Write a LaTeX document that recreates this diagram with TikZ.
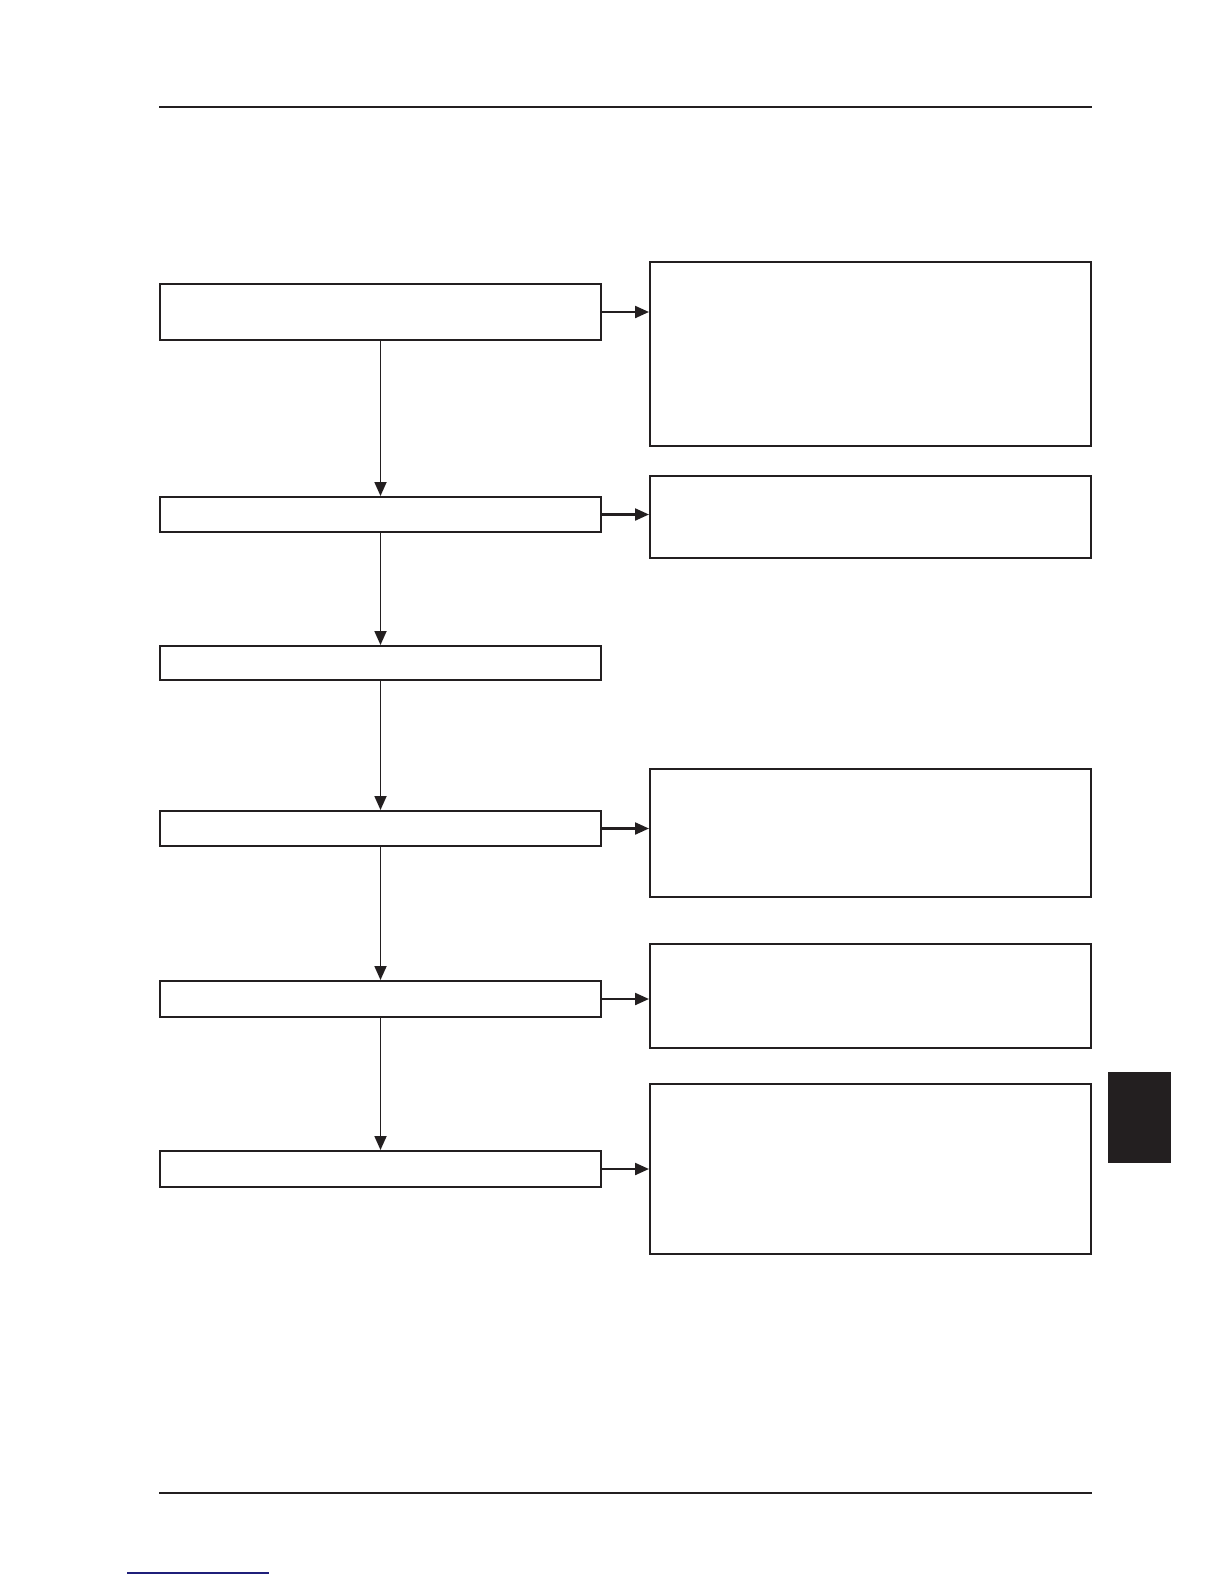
\documentclass[tikz,border=0pt]{standalone}
\usepackage{tikz}
\usetikzlibrary{positioning,arrows.meta,calc}
\definecolor{cInk}{HTML}{231F20}
\definecolor{cLink}{HTML}{1F1F7A}

\begin{document}
\begin{tikzpicture}[
  x=0.5bp,y=-0.5bp,
  >={Triangle[length=7bp,width=6bp]},
  block/.style={draw=cInk,line width=1bp,inner sep=0pt,minimum width=220.5bp},
  stepbox/.style={block},
  notebox/.style={block},
  flow/.style={->,line width=0.9bp,cInk},
  rule/.style={line width=1.3bp,cInk},
]
\useasboundingbox (0,0) rectangle (1224,1584);

% =====================================================================
% PAGE RULES AND THUMB TAB
% =====================================================================
\coordinate (ruleTopL) at (159,107);
\coordinate (ruleTopR) at (1092,107);
\coordinate (ruleBotL) at (159,1493);
\coordinate (ruleBotR) at (1092,1493);
\draw[rule] (ruleTopL) -- (ruleTopR);
\draw[rule] (ruleBotL) -- (ruleBotR);
\fill[cInk] (1108,1072) rectangle (1171,1163);
\coordinate (linkL) at (127,1573);
\coordinate (linkR) at (269,1573);
\draw[cLink,line width=0.6bp] (linkL) -- (linkR);

% =====================================================================
% LEFT COLUMN: STEPS
% =====================================================================
\node[stepbox,minimum height=28bp]   (s1) at (380.5,312)   {};
\node[stepbox,minimum height=17.5bp] (s2) at (380.5,514.5) {};
\node[stepbox,minimum height=17bp]   (s3) at (380.5,663)   {};
\node[stepbox,minimum height=17.5bp] (s4) at (380.5,828.5) {};
\node[stepbox,minimum height=18bp]   (s5) at (380.5,999)   {};
\node[stepbox,minimum height=18bp]   (s6) at (380.5,1169)  {};

\draw[flow] (s1.south) -- (s2.north);
\draw[flow] (s2.south) -- (s3.north);
\draw[flow] (s3.south) -- (s4.north);
\draw[flow] (s4.south) -- (s5.north);
\draw[flow] (s5.south) -- (s6.north);

% =====================================================================
% RIGHT COLUMN: NOTES
% =====================================================================
\node[notebox,minimum height=92bp] (n1) at (870.5,354)  {};
\node[notebox,minimum height=41bp] (n2) at (870.5,517)  {};
\node[notebox,minimum height=64bp] (n4) at (870.5,833)  {};
\node[notebox,minimum height=52bp] (n5) at (870.5,996)  {};
\node[notebox,minimum height=85bp] (n6) at (870.5,1169) {};

\draw[flow,line width=1.1bp] (s1.east) -- (s1.east -| n1.west);
\draw[flow,line width=1.1bp] (s2.east) -- (s2.east -| n2.west);
\draw[flow,line width=1.1bp] (s4.east) -- (s4.east -| n4.west);
\draw[flow,line width=1.1bp] (s5.east) -- (s5.east -| n5.west);
\draw[flow,line width=1.1bp] (s6.east) -- (s6.east -| n6.west);

\end{tikzpicture}
\end{document}
